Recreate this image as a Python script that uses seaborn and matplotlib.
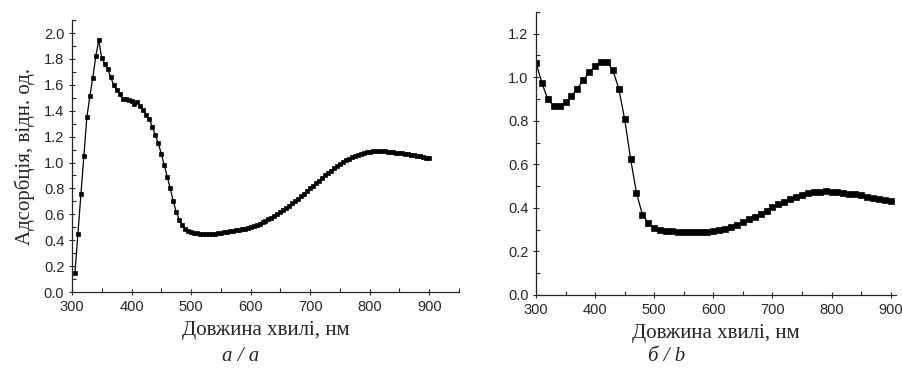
import matplotlib
matplotlib.use("Agg")
import matplotlib.pyplot as plt
import seaborn as sns
from matplotlib.ticker import MultipleLocator

# panel a: absorption spectrum, step 5 nm
wl_a = [305, 310, 315, 320, 325, 330, 335, 340, 345, 350, 355, 360, 365, 370, 375,
        380, 385, 390, 395, 400, 405, 410, 415, 420, 425, 430, 435, 440, 445, 450,
        455, 460, 465, 470, 475, 480, 485, 490, 495, 500, 505, 510, 515, 520, 525,
        530, 535, 540, 545, 550, 555, 560, 565, 570, 575, 580, 585, 590, 595, 600,
        605, 610, 615, 620, 625, 630, 635, 640, 645, 650, 655, 660, 665, 670, 675,
        680, 685, 690, 695, 700, 705, 710, 715, 720, 725, 730, 735, 740, 745, 750,
        755, 760, 765, 770, 775, 780, 785, 790, 795, 800, 805, 810, 815, 820, 825,
        830, 835, 840, 845, 850, 855, 860, 865, 870, 875, 880, 885, 890, 895, 900]
abs_a = [0.15, 0.45, 0.755, 1.05, 1.35, 1.51, 1.655, 1.82, 1.944, 1.807, 1.763, 1.72, 1.66, 1.60, 1.56,
         1.53, 1.49, 1.493, 1.483, 1.473, 1.45, 1.467, 1.436, 1.405, 1.367, 1.333, 1.277, 1.212, 1.148, 1.068,
         0.981, 0.89, 0.80, 0.705, 0.62, 0.56, 0.52, 0.49, 0.475, 0.465, 0.458, 0.453, 0.450, 0.448, 0.447,
         0.447, 0.448, 0.450, 0.453, 0.457, 0.461, 0.465, 0.469, 0.473, 0.477, 0.481, 0.485, 0.490, 0.495, 0.500,
         0.508, 0.517, 0.527, 0.538, 0.550, 0.562, 0.575, 0.589, 0.604, 0.620, 0.636, 0.652, 0.668, 0.684, 0.700,
         0.720, 0.740, 0.760, 0.780, 0.800, 0.820, 0.840, 0.860, 0.880, 0.900, 0.919, 0.937, 0.955, 0.972, 0.988,
         1.003, 1.017, 1.030, 1.042, 1.053, 1.062, 1.069, 1.075, 1.080, 1.083, 1.086, 1.087, 1.088, 1.088, 1.087,
         1.085, 1.083, 1.080, 1.077, 1.074, 1.070, 1.067, 1.063, 1.059, 1.055, 1.051, 1.047, 1.042, 1.037, 1.032]

# panel b: absorption spectrum, step 10 nm
wl_b = [300, 310, 320, 330, 340, 350, 360, 370, 380, 390, 400, 410, 420, 430, 440,
        450, 460, 470, 480, 490, 500, 510, 520, 530, 540, 550, 560, 570, 580, 590,
        600, 610, 620, 630, 640, 650, 660, 670, 680, 690, 700, 710, 720, 730, 740,
        750, 760, 770, 780, 790, 800, 810, 820, 830, 840, 850, 860, 870, 880, 890, 900]
abs_b = [1.067, 0.973, 0.898, 0.869, 0.869, 0.886, 0.913, 0.948, 0.987, 1.022, 1.051, 1.070, 1.072, 1.032, 0.948,
         0.807, 0.625, 0.468, 0.369, 0.332, 0.306, 0.298, 0.294, 0.292, 0.290, 0.289, 0.288, 0.287, 0.287, 0.289,
         0.293, 0.298, 0.305, 0.313, 0.323, 0.334, 0.347, 0.360, 0.374, 0.388, 0.402, 0.416, 0.429, 0.441, 0.452,
         0.460, 0.467, 0.472, 0.475, 0.476, 0.475, 0.473, 0.470, 0.466, 0.462, 0.457, 0.452, 0.447, 0.442, 0.437, 0.431]

sns.set_style("ticks")
plt.rcParams['font.family'] = ['Liberation Sans', 'DejaVu Sans']

fig = plt.figure(figsize=(9.03, 3.72), dpi=100)
ax1 = fig.add_axes([0.0797, 0.215, 0.4286, 0.731])
ax2 = fig.add_axes([0.5936, 0.207, 0.3986, 0.761])

serif = ['Liberation Serif', 'DejaVu Serif']

sns.lineplot(x=wl_a, y=abs_a, ax=ax1, color='black', linewidth=0.9, marker='s',
             markersize=3.4, markeredgecolor='black', markeredgewidth=0.5)
sns.lineplot(x=wl_b, y=abs_b, ax=ax2, color='black', linewidth=0.9, marker='s',
             markersize=4.8, markeredgecolor='black', markeredgewidth=0.5)

ax1.set_xlim(300, 950)
ax1.set_ylim(0, 2.1)
ax1.yaxis.set_major_locator(MultipleLocator(0.2))
ax1.yaxis.set_minor_locator(MultipleLocator(0.1))
ax1.set_ylabel("Адсорбція, відн. од.", family=serif, fontsize=15, labelpad=6)

ax2.set_xlim(300, 909)
ax2.set_ylim(0, 1.3)
ax2.yaxis.set_major_locator(MultipleLocator(0.2))
ax2.yaxis.set_minor_locator(MultipleLocator(0.1))

for ax in (ax1, ax2):
    ax.xaxis.set_major_locator(MultipleLocator(100))
    ax.xaxis.set_minor_locator(MultipleLocator(50))
    ax.set_xlabel("Довжина хвилі, нм", family=serif, fontsize=15, labelpad=5)
    ax.yaxis.set_major_formatter(matplotlib.ticker.FormatStrFormatter('%.1f'))
    ax.tick_params(which='major', direction='inout', length=5, width=0.8, labelsize=10.5, pad=3)
    ax.tick_params(which='minor', direction='in', length=3, width=0.8)
    for s in ('left', 'bottom'):
        ax.spines[s].set_linewidth(0.9)
    sns.despine(ax=ax)

fig.text(0.266, 0.03, "а / a", family=serif, style='italic', fontsize=15, ha='center')
fig.text(0.738, 0.03, "б / b", family=serif, style='italic', fontsize=15, ha='center')

fig.savefig("out.png", dpi=100)
